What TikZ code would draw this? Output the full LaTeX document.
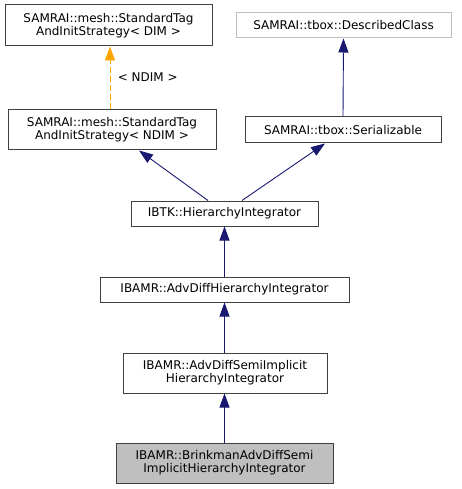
\documentclass[tikz,border=0pt]{standalone}
\usepackage{fontspec}
\setmainfont{DejaVu Sans}
\usetikzlibrary{arrows.meta}
\definecolor{edgeblue}{HTML}{191970}
\definecolor{orangeedge}{HTML}{FFA500}
\definecolor{grayfill}{HTML}{BFBFBF}
\definecolor{grayline}{HTML}{BFBFBF}
\definecolor{boxline}{HTML}{404040}
\tikzset{
  cls/.style={draw=boxline, line width=1pt, fill=white, inner sep=0pt, align=center,
    font=\fontsize{12}{12.8}\selectfont, text=black},
  arr/.style={draw=edgeblue, line width=0.9pt, -{Triangle[length=14pt,width=10pt]}},
  tmpl/.style={draw=orangeedge, line width=0.9pt, dash pattern=on 6pt off 3pt, -{Triangle[length=14pt,width=10pt,fill=orangeedge]}},
}
\begin{document}
\begin{tikzpicture}[x=1pt,y=-1pt]
\useasboundingbox (0,0) rectangle (461,489);
\node[cls, minimum width=207pt, minimum height=41pt] (sd) at (108.5,25.5) {SAMRAI::mesh::StandardTag\\AndInitStrategy< DIM >};
\node[cls, draw=grayline, minimum width=215pt, minimum height=25pt] (dc) at (343.5,25.5) {SAMRAI::tbox::DescribedClass};
\node[cls, minimum width=208pt, minimum height=40pt] (sn) at (112,130) {SAMRAI::mesh::StandardTag\\AndInitStrategy< NDIM >};
\node[cls, minimum width=196pt, minimum height=26pt] (ser) at (343,130) {SAMRAI::tbox::Serializable};
\node[cls, minimum width=187pt, minimum height=25pt] (hi) at (224.5,213.5) {IBTK::HierarchyIntegrator};
\node[cls, minimum width=249pt, minimum height=25pt] (ad) at (224.5,289.5) {IBAMR::AdvDiffHierarchyIntegrator};
\node[cls, minimum width=204pt, minimum height=40pt] (si) at (225,373) {IBAMR::AdvDiffSemiImplicit\\HierarchyIntegrator};
\node[cls, fill=grayfill, minimum width=217pt, minimum height=40pt] (br) at (224.5,463) {IBAMR::BrinkmanAdvDiffSemi\\ImplicitHierarchyIntegrator};

\draw[tmpl] ([xshift=-2pt]sn.north) -- ([xshift=1.5pt]sd.south) node[pos=0.52, anchor=west, xshift=4pt, font=\fontsize{12}{12.8}\selectfont] (lbl) {< NDIM >};
\draw[arr] (ser.north) -- (dc.south);
\draw[arr] ([xshift=-16.5pt]hi.north) -- ([xshift=27pt]sn.south);
\draw[arr] ([xshift=17.5pt]hi.north) -- ([xshift=-18pt]ser.south);
\draw[arr] (ad.north) -- (hi.north |- hi.south);
\draw[arr] (si.north -| ad.north) -- (ad.south);
\draw[arr] (br.north -| ad.north) -- (si.south -| ad.north);
\end{tikzpicture}
\end{document}
